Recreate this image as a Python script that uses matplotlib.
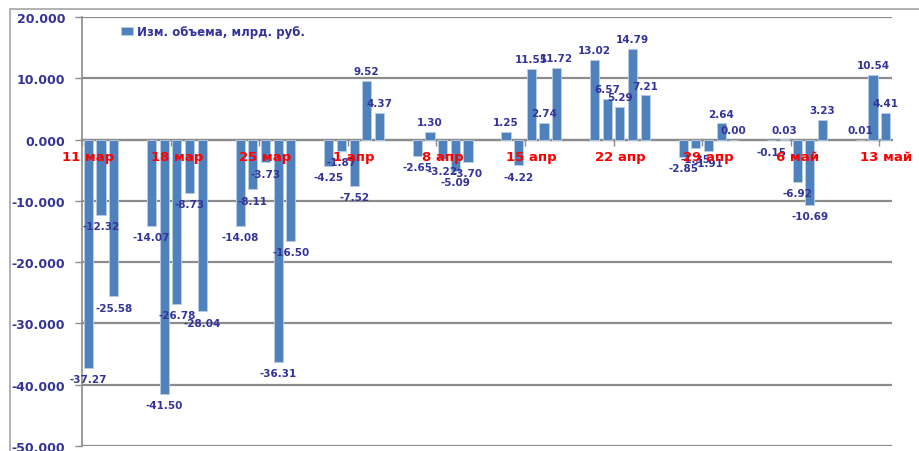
import pandas as pd
import matplotlib
matplotlib.use("Agg")
import matplotlib.pyplot as plt
import matplotlib.dates as mdates
from matplotlib.patches import Rectangle
from matplotlib.ticker import FuncFormatter, FixedLocator, NullFormatter

# daily change of volume, bn rub
dates = ["2020-03-11", "2020-03-12", "2020-03-13",
         "2020-03-16", "2020-03-17", "2020-03-18", "2020-03-19", "2020-03-20",
         "2020-03-23", "2020-03-24", "2020-03-25", "2020-03-26", "2020-03-27",
         "2020-03-30", "2020-03-31", "2020-04-01", "2020-04-02", "2020-04-03",
         "2020-04-06", "2020-04-07", "2020-04-08", "2020-04-09", "2020-04-10",
         "2020-04-13", "2020-04-14", "2020-04-15", "2020-04-16", "2020-04-17",
         "2020-04-20", "2020-04-21", "2020-04-22", "2020-04-23", "2020-04-24",
         "2020-04-27", "2020-04-28", "2020-04-29", "2020-04-30", "2020-05-01",
         "2020-05-04", "2020-05-05", "2020-05-06", "2020-05-07", "2020-05-08",
         "2020-05-11", "2020-05-12", "2020-05-13"]
values = [-37.27, -12.32, -25.58,
          -14.07, -41.50, -26.78, -8.73, -28.04,
          -14.08, -8.11, -3.73, -36.31, -16.50,
          -4.25, -1.87, -7.52, 9.52, 4.37,
          -2.65, 1.30, -3.22, -5.09, -3.70,
          1.25, -4.22, 11.55, 2.74, 11.72,
          13.02, 6.57, 5.29, 14.79, 7.21,
          -2.85, -1.35, -1.91, 2.64, 0.00,
          -0.15, 0.03, -6.92, -10.69, 3.23,
          0.01, 10.54, 4.41]

tick_dates = ["2020-03-11", "2020-03-18", "2020-03-25", "2020-04-01", "2020-04-08",
              "2020-04-15", "2020-04-22", "2020-04-29", "2020-05-06", "2020-05-13"]
tick_labels = ["11 мар", "18 мар", "25 мар", "1 апр", "8 апр",
               "15 апр", "22 апр", "29 апр", "6 май", "13 май"]
series_name = "Изм. объема, млрд. руб."

plt.rcParams['font.family'] = ['DejaVu Sans']
text_blue = '#33339a'
bar_blue = '#4f81bd'
grid_grey = '#8c8c8c'

fig = plt.figure(figsize=(9.19, 4.52), dpi=100)
ax = fig.add_axes([82 / 919, 5 / 452, 810 / 919, 429 / 452])

# chart frame
fig.patches.append(Rectangle((10 / 919, -0.1), 1.2, (442 / 452) + 0.1,
                             transform=fig.transFigure, fill=False,
                             edgecolor='#a6a6a6', linewidth=1.2))

x = mdates.date2num(pd.to_datetime(dates)) + 0.5
ax.bar(x, values, width=0.72, color=bar_blue, edgecolor='#b9cde5',
       linewidth=0.6, label=series_name, zorder=3)

for xi, v in zip(x, values):
    if v >= 0:
        ax.annotate(f"{v:.2f}", (xi, v), xytext=(0, 3.5), textcoords='offset points',
                    ha='center', va='bottom', fontsize=7.5, fontweight='bold',
                    color=text_blue, zorder=5)
    else:
        ax.annotate(f"{v:.2f}", (xi, v), xytext=(0, -4.5), textcoords='offset points',
                    ha='center', va='top', fontsize=7.5, fontweight='bold',
                    color=text_blue, zorder=5)

start = mdates.date2num(pd.Timestamp("2020-03-11"))
ax.set_xlim(start, start + 64)
ax.set_ylim(-50, 20)

ax.set_yticks(range(-50, 21, 10))
ax.yaxis.set_major_formatter(FuncFormatter(lambda v, p: f"{v:.3f}"))
ax.tick_params(axis='y', length=5, width=1, color=grid_grey, pad=7,
               labelsize=9, labelcolor=text_blue)
for lab in ax.get_yticklabels():
    lab.set_fontweight('bold')
ax.yaxis.grid(True, color=grid_grey, linewidth=1.6, zorder=0)

# category axis sits on the zero line, week labels drawn over the bars
tick_pos = mdates.date2num(pd.to_datetime(tick_dates))
ax.spines['bottom'].set_position(('data', 0))
ax.spines['bottom'].set_color(grid_grey)
ax.spines['bottom'].set_linewidth(1.6)
ax.xaxis.set_major_locator(FixedLocator(tick_pos))
ax.xaxis.set_major_formatter(NullFormatter())
ax.tick_params(axis='x', which='major', length=4, width=1, color=grid_grey, direction='out')
for tp, lab in zip(tick_pos, tick_labels):
    ax.annotate(lab, (tp + 0.5, 0), xytext=(0, -12), textcoords='offset points',
                ha='center', va='center', fontsize=9.5, fontweight='bold',
                color='#ff0000', zorder=6)

ax.spines['left'].set_color(grid_grey)
ax.spines['left'].set_linewidth(1.2)
ax.spines['top'].set_visible(False)
ax.spines['right'].set_visible(False)

leg = ax.legend(loc='upper left', bbox_to_anchor=(0.035, 1.006), frameon=False,
                handlelength=1.05, handleheight=0.65, handletextpad=0.3,
                prop={'size': 8.5, 'weight': 'bold'})
for t in leg.get_texts():
    t.set_color(text_blue)

fig.savefig("out.png", dpi=100)
